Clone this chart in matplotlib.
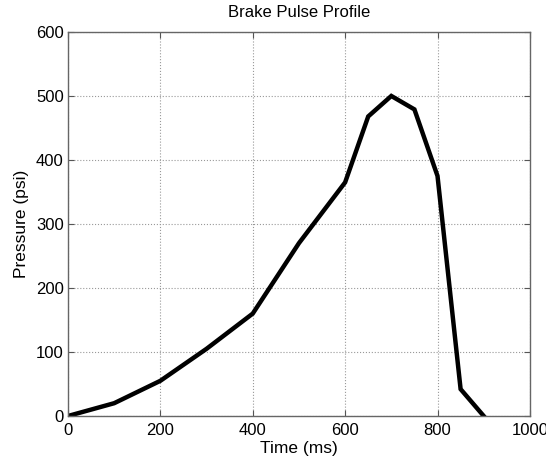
import matplotlib
matplotlib.use("Agg")
import matplotlib.pyplot as plt

time_ms = [0, 100, 200, 300, 400, 500, 600, 650, 700, 750, 800, 850, 900]
pressure_psi = [0, 20, 55, 105, 160, 270, 365, 468, 500, 479, 375, 42, 0]
xticks = [0, 200, 400, 600, 800, 1000]
yticks = [0, 100, 200, 300, 400, 500, 600]

plt.rcParams['font.family'] = ['Liberation Sans', 'DejaVu Sans']
fig = plt.figure(figsize=(5.46, 4.63), dpi=100)
ax = fig.add_axes([0.1245, 0.1015, 0.846, 0.8295])
ax.plot(time_ms, pressure_psi, color='black', linewidth=3.2, solid_joinstyle='miter')
ax.set_xlim(0, 1000)
ax.set_ylim(0, 600)
ax.set_xticks(xticks)
ax.set_yticks(yticks)
ax.grid(True, linestyle=':', color='#999999', linewidth=0.8)
ax.tick_params(direction='in', top=True, right=True, labelsize=12, length=4, color='#555555')
ax.tick_params(axis='x', pad=5)
ax.tick_params(axis='y', pad=3)
for s in ax.spines.values():
    s.set_color('#666666')
    s.set_linewidth(1.0)
ax.set_xlabel('Time (ms)', fontsize=12.5, labelpad=2)
ax.set_ylabel('Pressure (psi)', fontsize=12.5, labelpad=5)
ax.set_title('Brake Pulse Profile', fontsize=12, pad=11)
fig.savefig('out.png', dpi=100)
